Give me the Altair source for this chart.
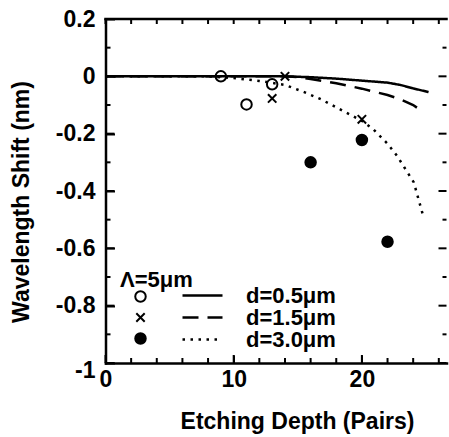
import altair as alt
import pandas as pd

FONT = "Liberation Sans"

# ---- calculated curves (lines) ----
calc_labels = ["d=0.5μm", "d=1.5μm", "d=3.0μm"]
solid_x = [0, 14, 16, 18, 20, 22, 23, 24, 25.2]
solid_y = [0, 0, -0.003, -0.008, -0.015, -0.022, -0.03, -0.042, -0.055]
dash_x = [0, 14, 15, 16, 18, 20, 22, 23, 24, 24.8]
dash_y = [0, 0, -0.003, -0.009, -0.024, -0.043, -0.065, -0.08, -0.1, -0.125]
dot_x = [0, 8, 10, 12, 14, 15.5, 16.8, 18.8, 20, 20.9, 22, 22.75, 24.05, 24.8]
dot_y = [0, 0, -0.006, -0.016, -0.03, -0.055, -0.08, -0.127, -0.155, -0.185,
         -0.235, -0.278, -0.37, -0.49]

# ---- measured points ----
meas_labels = ["d=0.5μm (measured)", "d=1.5μm (measured)", "d=3.0μm (measured)"]
open_x = [9, 11, 13]
open_y = [0.0, -0.098, -0.028]
cross_x = [13, 14, 20]
cross_y = [-0.077, 0.0, -0.15]
fill_x = [16, 20, 22]
fill_y = [-0.3, -0.222, -0.577]

# ---- ticks ----
x_major = [0, 10, 20]
x_minor = [0, 2, 4, 6, 8, 10, 12, 14, 16, 18, 20, 22, 24, 26]
y_major = [0.2, 0, -0.2, -0.4, -0.6, -0.8, -1]
y_minor = [0.2, 0.1, 0, -0.1, -0.2, -0.3, -0.4, -0.5, -0.6, -0.7, -0.8, -0.9, -1]

X_MIN, X_MAX = 0, 26.6
Y_MIN, Y_MAX = -1, 0.2
W, H = 341, 344
PX_X = W / (X_MAX - X_MIN)   # pixels per x unit
PX_Y = H / (Y_MAX - Y_MIN)   # pixels per y unit

lines_df = pd.concat([
    pd.DataFrame({"depth": solid_x, "shift": solid_y, "calc": calc_labels[0]}),
    pd.DataFrame({"depth": dash_x, "shift": dash_y, "calc": calc_labels[1]}),
    pd.DataFrame({"depth": dot_x, "shift": dot_y, "calc": calc_labels[2]}),
], ignore_index=True)

pts_df = pd.concat([
    pd.DataFrame({"depth": open_x, "shift": open_y, "meas": meas_labels[0]}),
    pd.DataFrame({"depth": cross_x, "shift": cross_y, "meas": meas_labels[1]}),
    pd.DataFrame({"depth": fill_x, "shift": fill_y, "meas": meas_labels[2]}),
], ignore_index=True)

# inward tick marks of the frame, expressed in data units
rows = []
for v in x_minor:
    ln = (8 if v in x_major else 5) / PX_Y
    rows.append({"x": v, "x2": v, "y": Y_MIN, "y2": Y_MIN + ln})          # bottom
    rows.append({"x": v, "x2": v, "y": Y_MAX, "y2": Y_MAX - 5 / PX_Y})    # top
for v in y_minor:
    major = any(abs(v - m) < 1e-9 for m in y_major)
    ln_l = (9 if major else 5) / PX_X
    ln_r = (8 if major else 4) / PX_X
    rows.append({"x": X_MIN, "x2": X_MIN + ln_l, "y": v, "y2": v})        # left
    rows.append({"x": X_MAX - ln_r, "x2": X_MAX, "y": v, "y2": v})        # right
ticks_df = pd.DataFrame(rows)
top_df = pd.DataFrame({"x": [X_MIN], "x2": [X_MAX], "y": [Y_MAX], "y2": [Y_MAX]})

xs = alt.Scale(domain=[X_MIN, X_MAX], nice=False, zero=False)
ys = alt.Scale(domain=[Y_MIN, Y_MAX], nice=False, zero=False)

ylab = "datum.value == 0 ? '0' : (datum.value < 0 ? '-' : '') + format(abs(datum.value), '.1~f')"

ax_bottom = alt.Axis(
    orient="bottom", values=x_major, tickSize={"expr": "-8"}, domain=True,
    labelPadding=13.8, labelFlush=False, title="Etching Depth (Pairs)",
    titleX=191.5, titleY=65, titleBaseline="alphabetic", titleAlign="center",
    titleAngle=0, zindex=2,
)
ay_left = alt.Axis(
    orient="left", values=y_major, tickSize={"expr": "-9"}, domain=True,
    labelPadding=19.5, title="Wavelength Shift (nm)", titleX=-77.5, titleY=182.5,
    titleAngle=270, titleBaseline="alphabetic", titleAlign="center",
    labelExpr=ylab, zindex=2,
    labelOffset={"condition": {"test": "datum.value == -1", "value": 7}, "value": 0},
)

CROSS = "M-0.8,-0.8L0.8,0.8M-0.8,0.8L0.8,-0.8"

leg_pts = alt.Legend(
    orient="none", legendX=14.5, legendY=251, direction="vertical",
    title="Λ=5μm", titleFont=FONT, titleFontSize=22, titleFontWeight="bold",
    titleColor="black", titleAlign="left", titlePadding=-6, padding=0,
    labelExpr="''", labelFontSize=1, symbolSize=110, symbolStrokeWidth=2,
    symbolStrokeColor="black", symbolOffset=14, clipHeight=21, rowPadding=0,
)
leg_lines = alt.Legend(
    orient="none", legendX=75.5, legendY=266.5, direction="vertical",
    title=None, padding=0, symbolType="stroke", symbolSize=1600,
    symbolStrokeWidth=2.5, symbolStrokeColor="black", symbolOffset=0,
    labelOffset=22, labelFont=FONT, labelFontSize=22, labelFontWeight="bold",
    labelColor="black", clipHeight=20, rowPadding=0, labelLimit=300,
)

lines = alt.Chart(lines_df).mark_line(color="black", strokeWidth=2.5).encode(
    x=alt.X("depth:Q", scale=xs, axis=ax_bottom),
    y=alt.Y("shift:Q", scale=ys, axis=ay_left),
    strokeDash=alt.StrokeDash(
        "calc:N",
        scale=alt.Scale(domain=calc_labels, range=[[1, 0], [16, 9], [2.5, 5.5]]),
        legend=leg_lines,
    ),
)

points = alt.Chart(pts_df).mark_point(
    filled=True, strokeWidth=2, size=110, opacity=1
).encode(
    x=alt.X("depth:Q", scale=xs, axis=None),
    y=alt.Y("shift:Q", scale=ys, axis=None),
    shape=alt.Shape("meas:N", scale=alt.Scale(domain=meas_labels,
                                              range=["circle", CROSS, "circle"]),
                    legend=leg_pts),
    fill=alt.Fill("meas:N", scale=alt.Scale(domain=meas_labels,
                                            range=["transparent", "transparent", "black"]),
                  legend=leg_pts),
    stroke=alt.Stroke("meas:N", scale=alt.Scale(domain=meas_labels,
                                                range=["black", "black", "black"]),
                      legend=leg_pts),
)

tick_rules = alt.Chart(ticks_df).mark_rule(color="black", strokeWidth=2).encode(
    x=alt.X("x:Q", scale=xs, axis=None), x2="x2:Q",
    y=alt.Y("y:Q", scale=ys, axis=None), y2="y2:Q",
)
top_rule = alt.Chart(top_df).mark_rule(color="black", strokeWidth=2.5, strokeCap="square").encode(
    x=alt.X("x:Q", scale=xs, axis=None), x2="x2:Q",
    y=alt.Y("y:Q", scale=ys, axis=None), y2="y2:Q",
)

chart = alt.layer(lines, points, tick_rules, top_rule).resolve_axis(
    x="independent", y="independent"
).properties(
    width=W, height=H,
    padding={"left": 9.5, "top": 8, "right": 0, "bottom": 2},
).configure_view(stroke=None).configure_axis(
    grid=False, labelFont=FONT, labelFontSize=23, labelFontWeight="bold",
    labelColor="black", titleFont=FONT, titleFontSize=23, titleFontWeight="bold",
    titleColor="black", tickColor="black", tickWidth=2, domainColor="black",
    domainWidth=2.5, domainCap="square",
)

chart.save("out.html", embed_options={"renderer": "svg", "actions": False})
